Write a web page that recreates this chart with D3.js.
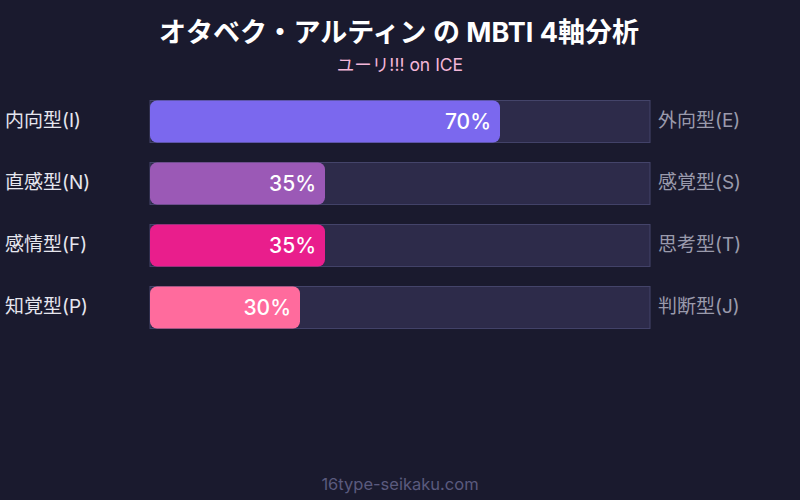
<!DOCTYPE html>
<html>
<head>
<meta charset="utf-8">
<script src="https://cdn.jsdelivr.net/npm/d3@7"></script>
<style>
  html, body { margin: 0; padding: 0; background: #1a1a2e; }
  svg { display: block; font-family: Inter, "Noto Sans CJK JP", sans-serif; }
</style>
</head>
<body>
<svg id="main-svg" width="800" height="500"></svg>
<script>
// axes, left pole / right pole
var leftLabels = ["内向型(I)", "直感型(N)", "感情型(F)", "知覚型(P)"];
var rightLabels = ["外向型(E)", "感覚型(S)", "思考型(T)", "判断型(J)"];
// share of left pole, percent
var values = [70, 35, 35, 30];
var barColors = ["#7b68ee", "#9b59b6", "#e91e8c", "#ff6b9d"];

(function() {
    var svg = d3.select("#main-svg");

    svg.append("rect")
    .attr("width", 800)
    .attr("height", 500)
    .attr("fill", "#1a1a2e");

    svg.append("text")
    .attr("x", 399)
    .attr("y", 42)
    .attr("text-anchor", "middle")
    .attr("fill", "#ffffff")
    .attr("font-size", 27)
    .attr("font-weight", "bold")
    .text("オタベク・アルティン の MBTI 4軸分析");

    svg.append("text")
    .attr("x", 400)
    .attr("y", 71)
    .attr("text-anchor", "middle")
    .attr("fill", "#f4b6d8")
    .attr("font-size", 17.5)
    .text("ユーリ!!! on ICE");

    var x = d3.scaleLinear().domain([0, 100]).range([150, 650]);
    var y = d3.scaleBand().domain(d3.range(values.length)).range([100, 348])
        .paddingInner(0.323).paddingOuter(0.1615).align(0);

    var rows = svg.selectAll(".row")
    .data(values)
    .enter()
    .append("g")
    .classed("row", true);

    // track
    rows.append("rect")
    .attr("x", x(0))
    .attr("y", function(d, i) { return y(i) + 0.5; })
    .attr("width", x(100) - x(0))
    .attr("height", y.bandwidth())
    .attr("fill", "#2d2b4a")
    .attr("stroke", "#44446a")
    .attr("stroke-width", 1);

    // value bar
    rows.append("rect")
    .attr("x", x(0))
    .attr("y", function(d, i) { return y(i) + 0.5; })
    .attr("width", function(d) { return x(d) - x(0); })
    .attr("height", y.bandwidth())
    .attr("rx", 7)
    .attr("fill", function(d, i) { return barColors[i]; });

    rows.append("text")
    .attr("x", function(d) { return x(d) - 9; })
    .attr("y", function(d, i) { return y(i) + y.bandwidth() / 2 + 8; })
    .attr("text-anchor", "end")
    .attr("fill", "#ffffff")
    .attr("font-size", 21)
    .attr("font-weight", 500)
    .text(function(d) { return d + "%"; });

    rows.append("text")
    .attr("x", 5)
    .attr("y", function(d, i) { return y(i) + y.bandwidth() / 2 + 6.5; })
    .attr("fill", "#e6e6ee")
    .attr("font-size", 19)
    .text(function(d, i) { return leftLabels[i]; });

    rows.append("text")
    .attr("x", 658)
    .attr("y", function(d, i) { return y(i) + y.bandwidth() / 2 + 6.5; })
    .attr("fill", "#9a9aac")
    .attr("font-size", 19)
    .text(function(d, i) { return rightLabels[i]; });

    svg.append("text")
    .attr("x", 400)
    .attr("y", 490)
    .attr("text-anchor", "middle")
    .attr("fill", "#5a5a7e")
    .attr("font-size", 16.5)
    .text("16type-seikaku.com");
})();
</script>
</body>
</html>
